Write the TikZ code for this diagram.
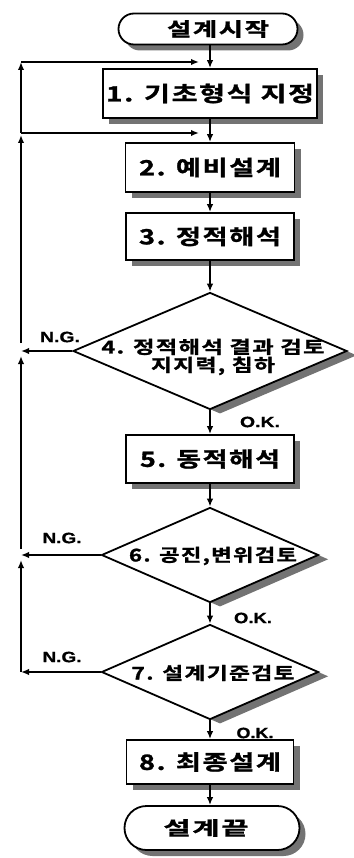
\documentclass[tikz,border=0pt]{standalone}
\usepackage{fontspec}
\usepackage{graphicx}
\usetikzlibrary{shapes.geometric,shapes.misc,shadows,arrows.meta}
\newfontfamily\kr{Noto Sans CJK KR}[UprightFont=* Bold, LetterSpace=6, FakeBold=1.2]
\newfontfamily\lab{Liberation Sans}[UprightFont=* Bold, FakeBold=0.8]
\newcommand{\tw}[2]{\resizebox{#1}{\height}{#2}}
\tikzset{
  boxshadow/.style={drop shadow={shadow xshift=6pt, shadow yshift=-6pt, fill=black!55, opacity=1}},
  diashadow/.style={drop shadow={shadow xshift=10pt, shadow yshift=-4.3pt, fill=black!55, opacity=1}},
  procbox/.style={rectangle, draw, fill=white, line width=1.8pt, inner sep=0pt, boxshadow,
                  font=\kr\fontsize{21}{24}\selectfont},
  term/.style={rounded rectangle, draw, fill=white, line width=1.8pt, inner sep=0pt, boxshadow,
                  font=\kr\fontsize{19}{21}\selectfont},
  decision/.style={diamond, draw, fill=white, line width=1.8pt, inner sep=0pt, diashadow},
  dtext/.style={inner sep=0pt, align=center, font=\kr\fontsize{17.5}{18}\selectfont},
  arr/.style={-{Latex[length=8pt,width=6.5pt]}, line width=1.6pt},
  lbl/.style={inner sep=0pt, font=\lab\fontsize{15}{17}\selectfont}
}
\begin{document}
\begin{tikzpicture}[x=1pt, y=-1pt]
\useasboundingbox (0,0) rectangle (353,858);
% nodes
\node[term, minimum width=179pt, minimum height=31pt] (start) at (208,29) {\hspace*{20pt}\tw{102pt}{설계시작}};
\node[procbox, minimum width=214pt, minimum height=49pt] (b1) at (210,93.5) {\tw{208pt}{1. 기초형식 지정}};
\node[procbox, minimum width=169pt, minimum height=49pt] (b2) at (210,167.5) {\tw{142pt}{2. 예비설계}};
\node[procbox, minimum width=168pt, minimum height=47pt] (b3) at (210,236.5) {\tw{142pt}{3. 정적해석}};
\node[decision, minimum width=274pt, minimum height=117pt] (d4) at (210,351) {};
\node[dtext] (d4t) at (213,357) {\tw{223pt}{4. 정적해석 결과 검토}\\\tw{124pt}{지지력, 침하}};
\node[procbox, minimum width=168pt, minimum height=48pt] (b5) at (210,459) {\tw{140pt}{5. 동적해석}};
\node[decision, minimum width=217pt, minimum height=95pt] (d6) at (210,555) {};
\node[dtext] (d6t) at (213,556) {\tw{168pt}{6. 공진,변위검토}};
\node[decision, minimum width=217pt, minimum height=95pt] (d7) at (210,672) {};
\node[dtext] (d7t) at (213,673) {\tw{163pt}{7. 설계기준검토}};
\node[procbox, minimum width=167pt, minimum height=44pt] (b8) at (210,762) {\tw{142pt}{8. 최종설계}};
\node[term, minimum width=175pt, minimum height=44pt] (end) at (212,828) {\tw{85pt}{설계끝}\hspace*{12pt}};
% labels
\node[lbl] (ng4) at (60,337) {\tw{40pt}{N.G.}};
\node[lbl] (ng6) at (62,538) {\tw{39pt}{N.G.}};
\node[lbl] (ng7) at (62,657) {\tw{39pt}{N.G.}};
\node[lbl] (ok4) at (260,422) {\tw{40pt}{O.K.}};
\node[lbl] (ok6) at (253,618) {\tw{38pt}{O.K.}};
\node[lbl] (ok7) at (255,733) {\tw{37pt}{O.K.}};
% coordinates of the return line
\coordinate (j1) at (21,62);
\coordinate (j2) at (21,133);
\coordinate (j4) at (21,351);
\coordinate (j6) at (21,555);
\coordinate (j7) at (21,672);
\coordinate (m1) at (210,62);
\coordinate (m2) at (210,133);
% main flow
\draw[arr] (b1.north |- start.south) -- (b1.north);
\draw[arr] (b1.south) -- (b1.south |- b2.north);
\draw[arr] (b2.south) -- (b2.south |- b3.north);
\draw[arr] (b3.south) -- (b3.south |- d4.north);
\draw[arr] (d4.south) -- (d4.south |- b5.north);
\draw[arr] (b5.south) -- (b5.south |- d6.north);
\draw[arr] (d6.south) -- (d6.south |- d7.north);
\draw[arr] (d7.south) -- (d7.south |- b8.north);
\draw[arr] (b8.south) -- (b8.south |- end.north);
% N.G. returns
\draw[arr] (d4.west) -- (d4.west -| j4);
\draw[arr] (d6.west) -- (d6.west -| j6);
\draw[arr] (d7.west) -- (d7.west -| j7);
\draw[arr, shorten >=5pt] (j7) -- (j6);
\draw[arr, shorten <=6pt, shorten >=5pt] (j6) -- (j4);
\draw[arr, shorten <=8pt, shorten >=2pt] (j4) -- (j2);
\draw[arr] (j2) -- (j1);
\draw[arr, shorten >=11pt] (j1) -- (m1);
\draw[arr, shorten >=11pt] (j2) -- (m2);
\end{tikzpicture}
\end{document}
